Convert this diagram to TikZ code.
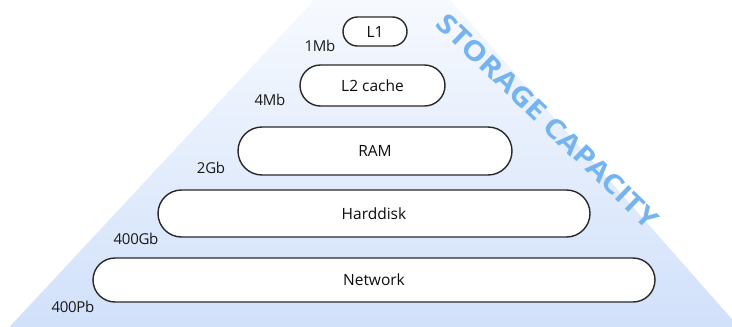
\documentclass[tikz,border=0pt]{standalone}
\usepackage{fontspec}
\setmainfont{Open Sans}
\usetikzlibrary{shapes.misc}
\definecolor{pyr}{RGB}{208,224,250}
\definecolor{capblue}{RGB}{118,180,240}
\definecolor{edge}{RGB}{40,40,40}
\begin{document}
\begin{tikzpicture}[x=1pt,y=-1pt,
  level/.style={rounded rectangle, draw=edge, line width=1.4pt, fill=white,
    font=\fontsize{15.5}{17}\selectfont, inner sep=0pt, text=black!95},
  sizelabel/.style={font=\fontsize{15}{17}\selectfont\addfontfeatures{LetterSpace=-2}, inner sep=0pt, text=black!90},
  captext/.style={font=\fontsize{27}{30}\selectfont\bfseries, text=capblue, inner sep=0pt, rotate=-44}]
\useasboundingbox (0,0) rectangle (732,327);
\shade[top color=white, bottom color=pyr] (384,-75) -- (746,335) -- (2,335) -- cycle;

\node[captext, xscale=1.15] (cap) at (548,121) {STORAGE CAPACITY};

\node[level, minimum width=64, minimum height=29] (l1) at (375,31.5) {L1};
\node[level, minimum width=145, minimum height=41] (l2) at (372.5,85.5) {L2 cache};
\node[level, minimum width=274, minimum height=48] (ram) at (375,151) {RAM};
\node[level, minimum width=432, minimum height=47] (hdd) at (374,213.5) {Harddisk};
\node[level, minimum width=562, minimum height=44] (net) at (374,280) {Network};

\node[sizelabel] (s1) at (320,46) {1Mb};
\node[sizelabel] (s2) at (270,100) {4Mb};
\node[sizelabel] (s3) at (211,168) {2Gb};
\node[sizelabel] (s4) at (136,239) {400Gb};
\node[sizelabel] (s5) at (73,307) {400Pb};
\end{tikzpicture}
\end{document}
